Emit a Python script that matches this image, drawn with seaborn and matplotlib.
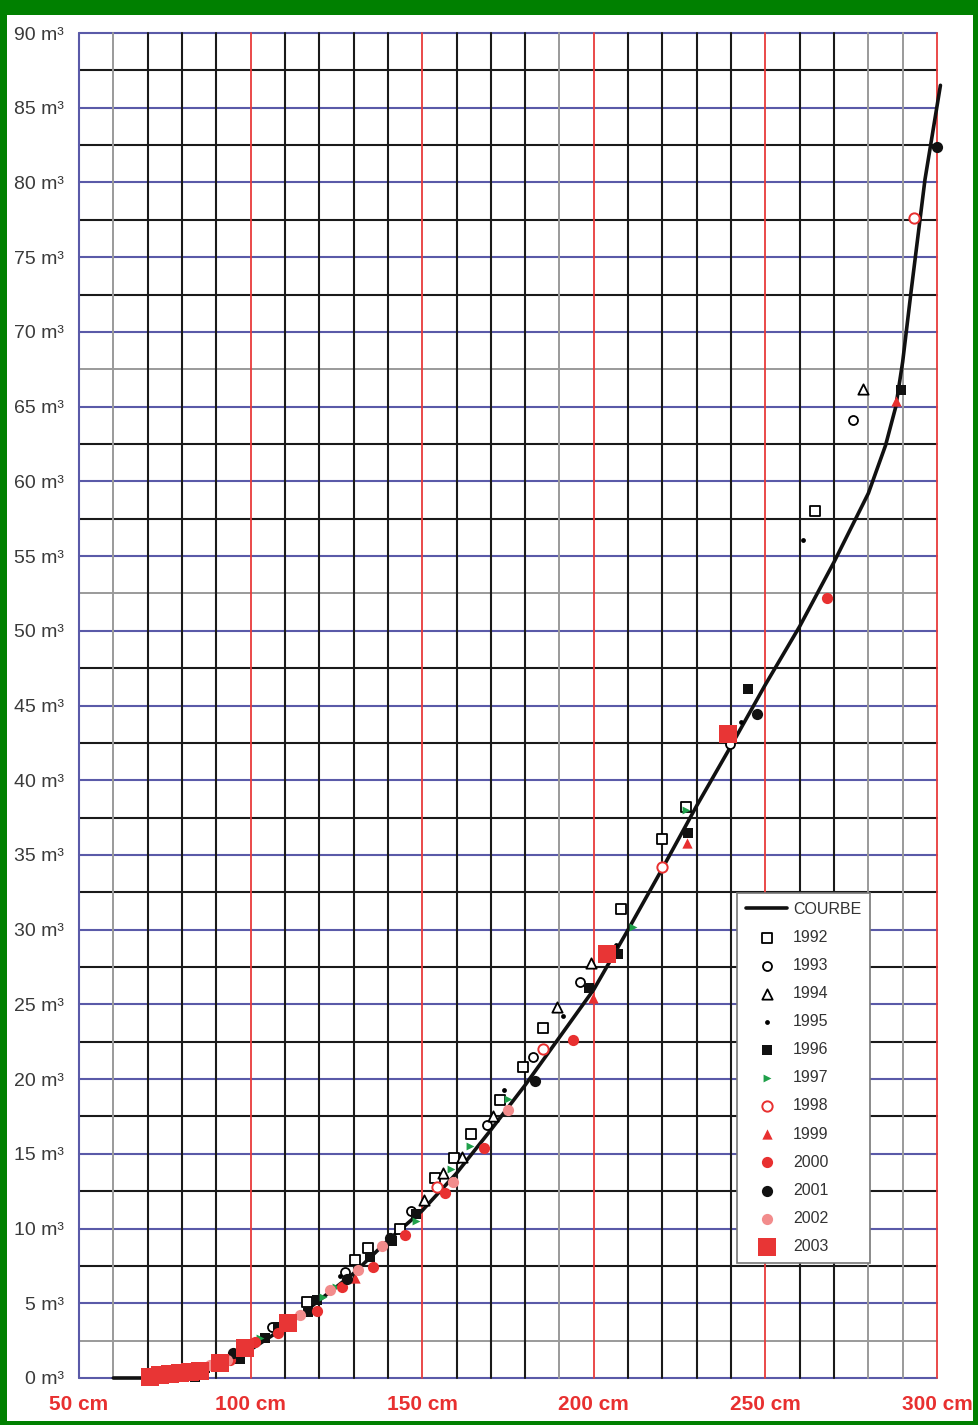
import numpy as np
import matplotlib
matplotlib.use("Agg")
import matplotlib.pyplot as plt
import seaborn as sns
from matplotlib.patches import Rectangle

# calibration curve (cm -> m3)
curve_x = [60, 68, 72, 80, 90, 100, 110, 120, 130, 140, 150, 160, 170, 180, 190,
           200, 210, 220, 230, 240, 250, 260, 270, 280, 285, 288, 290, 292.5, 296.5, 301]
curve_y = [0, 0, 0.15, 0.5, 1.0, 1.9, 3.4, 5.2, 7.0, 9.2, 11.2, 13.7, 16.6, 19.6, 22.8,
           26.0, 30.0, 34.1, 38.3, 42.3, 46.4, 50.3, 54.6, 59.2, 62.4, 65.0, 68.0, 72.8, 80.2, 86.5]

# measured points per year
x_1992 = [116.4, 130.4, 134.2, 143.5, 153.7, 159.2, 164.2, 172.6, 179.3, 185.2, 207.9, 219.8, 226.8, 264.4]
y_1992 = [5.1, 7.9, 8.7, 10.0, 13.4, 14.7, 16.3, 18.6, 20.8, 23.4, 31.4, 36.1, 38.2, 58.0]
x_1993 = [106.2, 127.5, 146.7, 168.8, 182.2, 196.0, 239.6, 275.5]
y_1993 = [3.4, 7.1, 11.2, 16.9, 21.5, 26.5, 42.4, 64.1]
x_1994 = [150.5, 156.0, 161.6, 170.6, 189.2, 199.1, 278.4]
y_1994 = [11.9, 13.7, 14.8, 17.5, 24.8, 27.8, 66.2]
x_1995 = [126.0, 173.8, 191.0, 206.4, 242.8, 260.9]
y_1995 = [6.8, 19.3, 24.2, 29.0, 43.9, 56.1]
x_1996 = [83.8, 86.7, 96.9, 104.2, 108.0, 116.7, 119.3, 134.8, 141.2, 148.2, 198.6, 207.0, 227.4, 244.9, 289.4]
y_1996 = [0.1, 0.7, 1.3, 2.7, 3.4, 4.4, 5.2, 8.1, 9.2, 11.0, 26.1, 28.4, 36.5, 46.1, 66.1]
x_1997 = [102.7, 121.0, 125.0, 148.2, 158.4, 163.9, 175.0, 211.4, 226.8]
y_1997 = [2.7, 5.4, 6.1, 10.5, 14.0, 15.5, 18.7, 30.2, 38.0]
x_1998 = [154.3, 185.2, 219.8, 293.2]
y_1998 = [12.8, 22.0, 34.2, 77.6]
x_1999 = [130.4, 199.8, 227.1, 288.0]
y_1999 = [6.7, 25.4, 35.8, 65.4]
x_2000 = [94.0, 101.3, 108.0, 119.3, 126.6, 135.6, 145.0, 156.6, 168.0, 193.9, 267.9]
y_2000 = [1.2, 2.4, 3.0, 4.5, 6.1, 7.4, 9.6, 12.4, 15.4, 22.6, 52.2]
x_2001 = [94.9, 128.1, 140.6, 182.8, 247.5, 299.9]
y_2001 = [1.7, 6.6, 9.4, 19.9, 44.4, 82.4]
x_2002 = [88.2, 93.1, 114.4, 123.1, 131.3, 138.3, 159.0, 175.0]
y_2002 = [0.9, 1.2, 4.2, 5.9, 7.2, 8.8, 13.1, 17.9]
x_2003 = [70.7, 73.5, 76.5, 79.5, 82.3, 85.2, 91.1, 98.4, 110.9, 203.8, 239.0]
y_2003 = [0.1, 0.2, 0.3, 0.35, 0.4, 0.5, 1.0, 2.0, 3.7, 28.4, 43.1]

x_ticks = [50, 100, 150, 200, 250, 300]
y_ticks = list(range(0, 91, 5))

sns.set_style("white")
plt.rcParams['font.family'] = ['Liberation Sans', 'DejaVu Sans']

fig = plt.figure(figsize=(9.79, 14.25), dpi=100)
fig.patch.set_facecolor('#008000')
fig.patches.append(Rectangle((7/979, 4/1425), 966/979, 1406/1425, transform=fig.transFigure,
                             facecolor='white', edgecolor='none', zorder=-10))
ax = fig.add_axes([79/979, 47/1425, 858/979, 1345/1425])
ax.set_facecolor('white')

# grid
for v in np.arange(0, 90.1, 2.5):
    if v % 5 == 0:
        col, lw = '#5a5aa8', 1.5
    elif v in (2.5, 52.5, 67.5):
        col, lw = '#9a9a9a', 1.4
    else:
        col, lw = '#1a1a1a', 1.5
    ax.axhline(v, color=col, lw=lw, zorder=1, clip_on=False)
for v in range(50, 301, 10):
    if v == 50:
        col, lw = '#5a5aa8', 1.5
    elif v % 50 == 0:
        col, lw = '#e83a3a', 1.3
    elif v in (60, 190, 280, 290):
        col, lw = '#9a9a9a', 1.4
    else:
        col, lw = '#1a1a1a', 1.5
    ax.axvline(v, color=col, lw=lw, zorder=1, clip_on=False)

sns.lineplot(x=curve_x, y=curve_y, ax=ax, color='#111111', lw=2.6, sort=False,
             estimator=None, label='COURBE', zorder=3)
ax.get_lines()[-1].set_clip_on(False)

styles = [
    ('1992', x_1992, y_1992, dict(marker='s', s=55, facecolor='white', edgecolor='black', linewidth=1.3)),
    ('1993', x_1993, y_1993, dict(marker='o', s=42, facecolor='white', edgecolor='black', linewidth=1.3)),
    ('1994', x_1994, y_1994, dict(marker='^', s=55, facecolor='white', edgecolor='black', linewidth=1.3)),
    ('1995', x_1995, y_1995, dict(marker='o', s=12, color='black', linewidth=0)),
    ('1996', x_1996, y_1996, dict(marker='s', s=60, color='#111111', linewidth=0)),
    ('1997', x_1997, y_1997, dict(marker='>', s=32, color='#1fa04a', linewidth=0)),
    ('1998', x_1998, y_1998, dict(marker='o', s=55, facecolor='white', edgecolor='#e83030', linewidth=1.4)),
    ('1999', x_1999, y_1999, dict(marker='^', s=55, color='#e83030', linewidth=0)),
    ('2000', x_2000, y_2000, dict(marker='o', s=65, color='#e83030', linewidth=0)),
    ('2001', x_2001, y_2001, dict(marker='o', s=65, color='#111111', linewidth=0)),
    ('2002', x_2002, y_2002, dict(marker='o', s=65, color='#f28c8c', linewidth=0)),
    ('2003', x_2003, y_2003, dict(marker='s', s=165, color='#e83535', linewidth=0)),
]
for year, xs, ys, kw in styles:
    sns.scatterplot(x=xs, y=ys, ax=ax, label=year, zorder=4, clip_on=False, **kw)

ax.set_xlim(50, 300)
ax.set_ylim(0, 90)
for s in ax.spines.values():
    s.set_visible(False)

ax.set_xticks(x_ticks)
ax.set_xticklabels([f"{t} cm" for t in x_ticks], color='#e83030', fontsize=15,
                   fontweight='bold')
ax.set_yticks(y_ticks)
ax.set_yticklabels([f"{t} m³" for t in y_ticks], color='#3a3a3a', fontsize=14)
ax.tick_params(axis='x', length=0, pad=12)
ax.tick_params(axis='y', length=0, pad=11)

leg = ax.legend(loc='upper left', bbox_to_anchor=(0.767, 0.3606), fontsize=11.5,
                frameon=True, fancybox=False, framealpha=1, edgecolor='#777777',
                handlelength=2.6, handletextpad=0.35, labelspacing=0.82, borderpad=0.55,
                borderaxespad=0)
leg.get_frame().set_linewidth(1.2)
leg.set_zorder(5)
for t in leg.get_texts():
    t.set_color('#333333')

fig.savefig("out.png", dpi=100, facecolor=fig.get_facecolor())
